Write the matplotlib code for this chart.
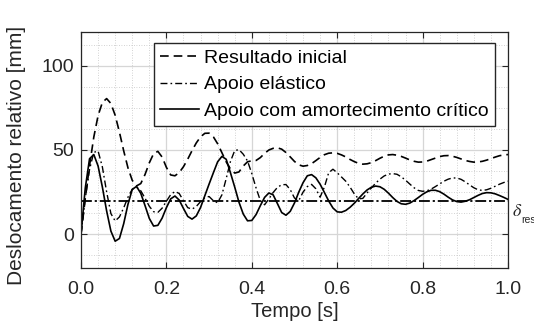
import numpy as np
import matplotlib
matplotlib.use("Agg")
import matplotlib.pyplot as plt
from matplotlib.ticker import MultipleLocator, FormatStrFormatter
import matplotlib.transforms as mtransforms

plt.rcParams['font.family'] = ['Liberation Sans', 'DejaVu Sans']
plt.rcParams['mathtext.fontset'] = 'stix'

# Time grid [s]
tempo = np.linspace(0.0, 1.0, 101)

resultado_inicial = [
    0.0, 21.2, 40.8, 57.7, 70.4, 78.2, 80.5, 77.6, 70.6, 60.6,
    49.5, 39.4, 32.0, 28.7, 30.1, 35.5, 42.4, 47.8, 49.2, 45.8,
    39.7, 35.2, 34.7, 36.6, 40.1, 44.6, 49.6, 54.2, 57.8, 59.9,
    60.0, 57.8, 53.7, 48.4, 43.0, 38.7, 36.3, 37.0, 40.5, 43.0,
    43.6, 43.8, 45.5, 48.0, 50.0, 51.0, 51.3, 50.5, 48.5, 45.9,
    43.2, 41.2, 40.4, 40.8, 41.9, 43.7, 45.6, 47.2, 48.1, 48.3,
    48.0, 47.1, 45.9, 44.4, 43.1, 42.1, 41.6, 41.8, 42.5, 43.7,
    45.1, 46.3, 47.1, 47.3, 46.9, 46.2, 45.2, 44.1, 43.3, 42.8,
    42.9, 43.4, 44.3, 45.2, 46.1, 46.6, 46.7, 46.3, 45.6, 44.7,
    43.8, 43.2, 42.8, 42.9, 43.3, 44.0, 44.9, 45.8, 46.6, 47.1,
    47.3,
]

apoio_elastico = [
    0.0, 21.3, 38.5, 48.6, 49.4, 40.0, 25.2, 12.3, 7.9, 10.3,
    15.7, 22.0, 26.7, 28.0, 25.8, 21.4, 16.6, 13.4, 13.0, 15.5,
    19.6, 23.5, 25.4, 24.2, 19.9, 15.8, 14.9, 16.5, 19.4, 21.8,
    22.4, 19.9, 18.7, 23.4, 33.0, 43.2, 49.7, 50.2, 47.5, 43.5,
    36.0, 27.5, 20.0, 17.5, 21.0, 24.8, 27.8, 29.4, 29.5, 26.5,
    21.5, 20.0, 25.0, 28.3, 29.6, 27.0, 22.0, 28.0, 36.5, 38.6,
    36.5, 34.0, 31.5, 28.0, 24.0, 21.0, 21.3, 24.5, 27.5, 30.3,
    32.7, 34.6, 35.7, 36.0, 35.6, 34.1, 32.1, 29.8, 27.6, 26.0,
    25.5, 25.8, 26.8, 28.3, 29.9, 31.5, 32.7, 33.4, 33.4, 32.6,
    31.1, 29.3, 27.6, 26.4, 26.0, 26.4, 27.3, 28.5, 29.7, 30.7,
    31.5,
]

amortecimento_critico = [
    0.0, 27.4, 44.8, 47.3, 40.5, 28.1, 13.9, 1.9, -4.1, -2.5,
    6.3, 17.8, 26.6, 28.4, 24.3, 17.0, 9.4, 4.9, 5.3, 9.6,
    15.8, 21.0, 22.7, 20.3, 15.3, 10.6, 9.0, 10.9, 15.9, 22.9,
    29.8, 36.5, 43.0, 46.2, 44.5, 36.5, 28.0, 19.0, 12.0, 8.0,
    8.2, 11.7, 17.0, 21.9, 24.5, 23.4, 18.2, 12.9, 11.3, 13.6,
    18.6, 25.0, 30.6, 34.7, 35.4, 33.5, 29.7, 24.8, 19.8, 15.6,
    13.3, 13.1, 14.1, 16.0, 18.4, 21.2, 23.9, 26.3, 27.9, 28.6,
    28.2, 26.7, 24.4, 21.8, 19.5, 18.1, 17.8, 18.5, 20.0, 21.8,
    23.7, 25.2, 26.1, 26.1, 25.3, 23.8, 22.0, 20.4, 19.4, 19.1,
    19.6, 20.5, 21.8, 23.1, 24.2, 24.7, 24.6, 24.0, 23.0, 21.9,
    20.7,
]

delta_res = 20.0

legenda = ["Resultado inicial", "Apoio elástico", "Apoio com amortecimento crítico"]

fig = plt.figure(figsize=(5.34, 3.28), dpi=100)
ax = fig.add_axes([81 / 534, 1 - 268 / 328, 427 / 534, 236 / 328])

ax.plot(tempo, resultado_inicial, color='black', lw=1.2,
        linestyle=(0, (5.2, 3.0)), label=legenda[0])
ax.plot(tempo, apoio_elastico, color='black', lw=1.0,
        linestyle=(0, (5.0, 2.2, 1.2, 2.2)), label=legenda[1])
ax.plot(tempo, amortecimento_critico, color='black', lw=1.2,
        linestyle='-', label=legenda[2])
ax.axhline(delta_res, color='black', lw=1.3,
           linestyle=(0, (6.0, 1.6, 1.2, 1.6)))

ax.set_xlim(0, 1.0)
ax.set_ylim(-20, 120)
ax.xaxis.set_major_locator(MultipleLocator(0.2))
ax.xaxis.set_minor_locator(MultipleLocator(0.04))
ax.yaxis.set_major_locator(MultipleLocator(50))
ax.yaxis.set_minor_locator(MultipleLocator(12.5))
ax.xaxis.set_major_formatter(FormatStrFormatter('%.1f'))

ax.grid(which='major', color='#d6d6d6', lw=0.9, linestyle='-')
ax.grid(which='minor', color='#c4c4c4', lw=0.6, linestyle=(0, (1, 2)))
ax.set_axisbelow(True)

ax.tick_params(which='major', direction='in', length=4, width=0.8,
               top=True, right=True, labelsize=14, colors='#262626')
ax.tick_params(axis='x', which='major', pad=9)
ax.tick_params(axis='y', which='major', pad=5)
ax.tick_params(which='minor', length=0)
for s in ax.spines.values():
    s.set_color('#262626')
    s.set_linewidth(0.9)

ax.set_xlabel('Tempo [s]', fontsize=14.5, color='#262626', labelpad=3)
ax.set_ylabel('Deslocamento relativo [mm]', fontsize=15, color='#262626')
ax.yaxis.set_label_coords(-0.128, 0.477)

leg = ax.legend(loc='upper right', bbox_to_anchor=(0.9696, 0.953),
                borderaxespad=0, fontsize=14, frameon=True, fancybox=False,
                framealpha=1, edgecolor='#262626', handlelength=2.0,
                handletextpad=0.25, labelspacing=0.45, borderpad=0.33)
leg.get_frame().set_linewidth(1.0)

trans = mtransforms.blended_transform_factory(ax.transAxes, ax.transData)
ax.text(1.010, delta_res - 1.5, r'$\delta$', transform=trans, fontsize=13,
        va='top', ha='left', color='#262626')
ax.text(1.030, delta_res - 8.5, 'res', transform=trans, fontsize=7.5,
        va='top', ha='left', color='#262626')

fig.savefig('out.png', dpi=100)
